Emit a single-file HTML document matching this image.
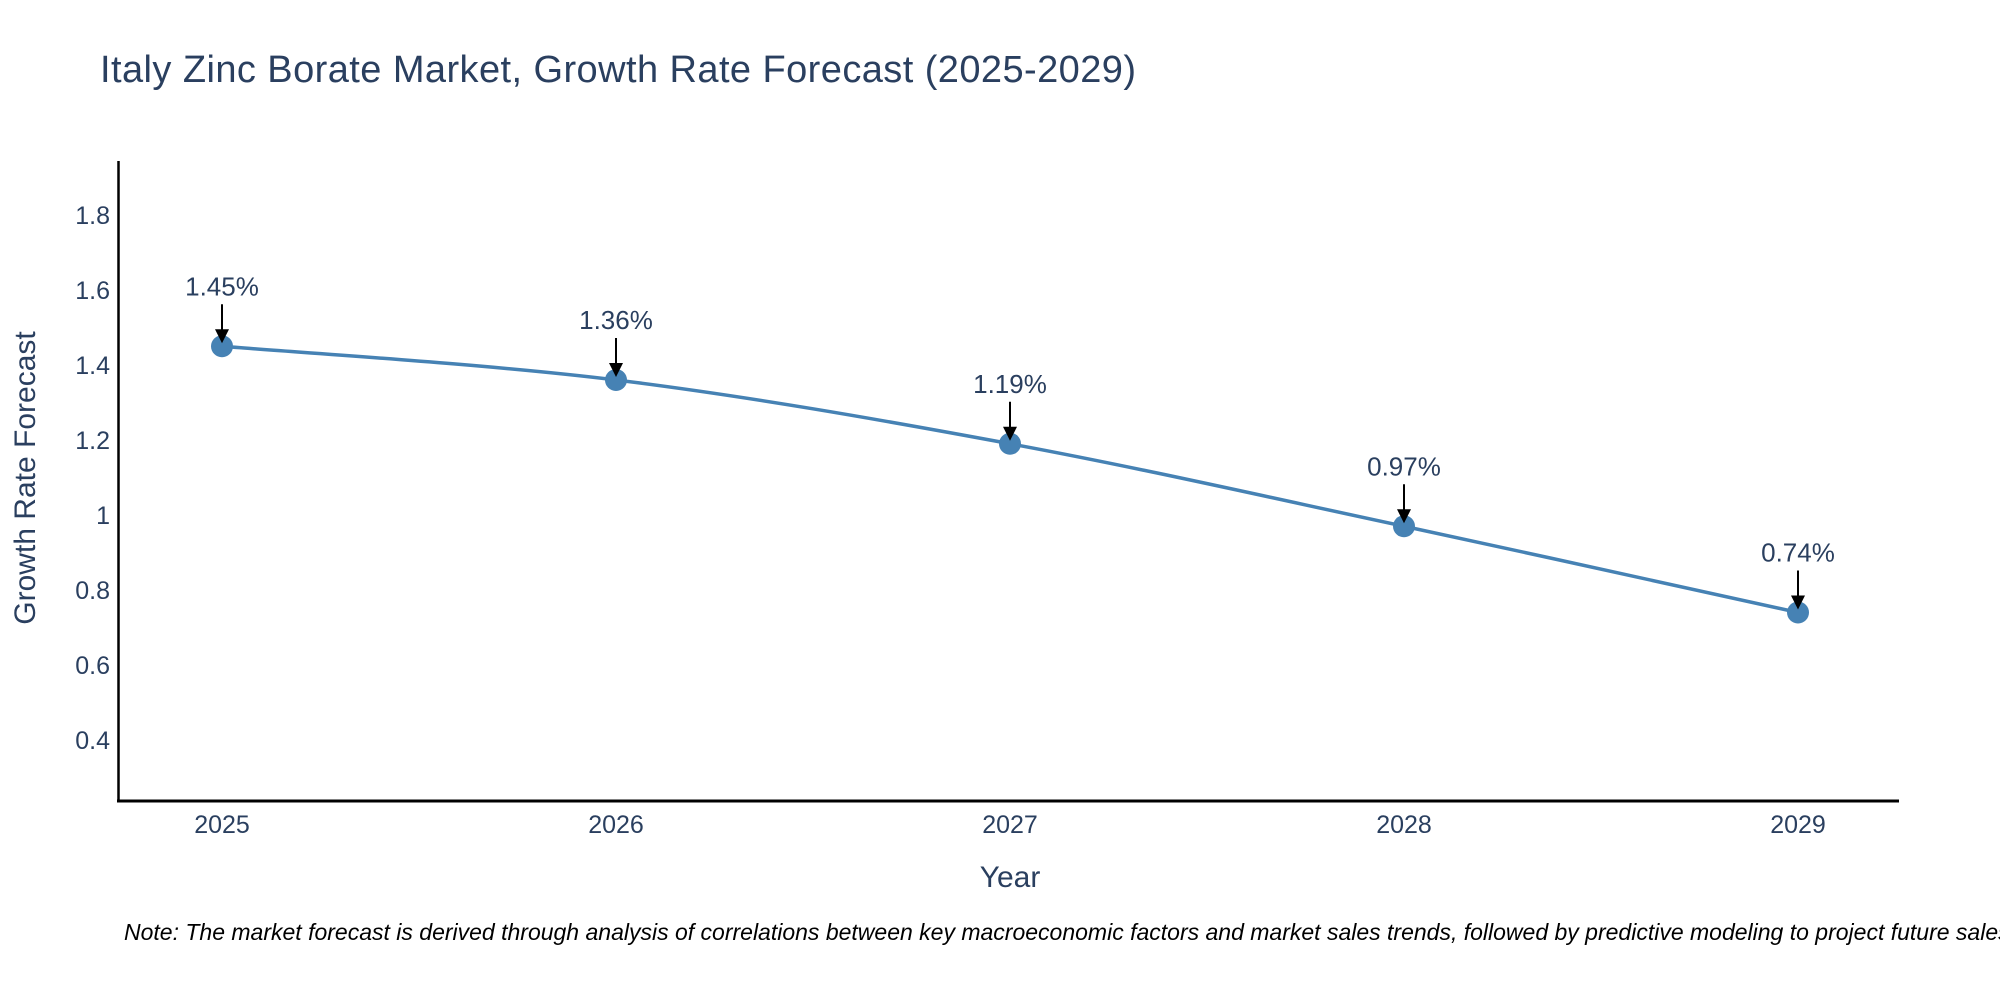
<!DOCTYPE html>
<html><head><meta charset="utf-8"><style>
html,body{margin:0;padding:0;background:#fff}
svg{display:block;font-family:"Liberation Sans",sans-serif}
</style></head><body>
<svg id="chart" width="2000" height="1000" viewBox="0 0 2000 1000">
<text x="100" y="82" font-size="38" fill="#2a3f5f" textLength="1036">Italy Zinc Borate Market, Growth Rate Forecast (2025-2029)</text>
<g id="yticks"></g>
<g id="xticks"></g>
<line x1="118.5" y1="161" x2="118.5" y2="802" stroke="#000" stroke-width="2.5"/>
<line x1="117" y1="801" x2="1899" y2="801" stroke="#000" stroke-width="3"/>
<path id="series" fill="none" stroke="#4682b4" stroke-width="3.5"/>
<g id="marks"></g>
<g id="annos"></g>
<text x="0" y="0" transform="translate(35,478) rotate(-90)" text-anchor="middle" font-size="30" fill="#2a3f5f">Growth Rate Forecast</text>
<text x="1010" y="887" text-anchor="middle" font-size="30" fill="#2a3f5f">Year</text>
<text x="124" y="940" font-size="23" font-style="italic" fill="#000">Note: The market forecast is derived through analysis of correlations between key macroeconomic factors and market sales trends, followed by predictive modeling to project future sales.</text>
</svg>
<script>
const years = [2025, 2026, 2027, 2028, 2029];
const values = [1.45, 1.36, 1.19, 0.97, 0.74];
const labels = ["1.45%", "1.36%", "1.19%", "0.97%", "0.74%"];
const yTicks = [0.4, 0.6, 0.8, 1, 1.2, 1.4, 1.6, 1.8];
const yTickLabels = ["0.4", "0.6", "0.8", "1", "1.2", "1.4", "1.6", "1.8"];

const NS = "http://www.w3.org/2000/svg";
function xs(v){ return 222 + (v - 2025) * 394; }
function ys(v){ return 365 - (v - 1.4) * 375; }
function mk(tag, attrs, parent){
  const e = document.createElementNS(NS, tag);
  for (const k in attrs) e.setAttribute(k, attrs[k]);
  parent.appendChild(e);
  return e;
}
const yg = document.getElementById('yticks');
yTicks.forEach((t, i) => {
  const e = mk('text', {x: 110, y: ys(t) + 9, 'text-anchor': 'end', 'font-size': 25, fill: '#2a3f5f'}, yg);
  
  
  e.textContent = yTickLabels[i];
});
const xg = document.getElementById('xticks');
years.forEach(y => {
  const e = mk('text', {x: xs(y), y: 833, 'text-anchor': 'middle', 'font-size': 25, fill: '#2a3f5f'}, xg);
  
  
  e.textContent = String(y);
});
const pts = years.map((y, i) => [xs(y), ys(values[i])]);
let d = `M${pts[0][0]},${pts[0][1]}`;
for (let i = 0; i < pts.length - 1; i++) {
  const p0 = pts[Math.max(0, i - 1)], p1 = pts[i], p2 = pts[i + 1], p3 = pts[Math.min(pts.length - 1, i + 2)];
  const t = 0.5 / 3;
  const c1 = [p1[0] + (p2[0] - p0[0]) * t, p1[1] + (p2[1] - p0[1]) * t];
  const c2 = [p2[0] - (p3[0] - p1[0]) * t, p2[1] - (p3[1] - p1[1]) * t];
  d += ` C${c1[0]},${c1[1]} ${c2[0]},${c2[1]} ${p2[0]},${p2[1]}`;
}
document.getElementById('series').setAttribute('d', d);
const mg = document.getElementById('marks');
const ag = document.getElementById('annos');
pts.forEach((p, i) => {
  const c = mk('circle', {cx: p[0], cy: p[1], r: 11, fill: '#4682b4'}, mg);
  
  
  const l = mk('line', {x1: p[0], y1: p[1] - 42, x2: p[0], y2: p[1] - 14, stroke: '#000', 'stroke-width': 2}, ag);
  
  
  const h = mk('path', {d: `M${p[0]-7},${p[1]-17} L${p[0]+7},${p[1]-17} L${p[0]},${p[1]-3} Z`, fill: '#000'}, ag);
  
  
  const t = mk('text', {x: p[0], y: p[1] - 51, 'text-anchor': 'middle', 'font-size': 26, fill: '#2a3f5f'}, ag);
  
  
  t.textContent = labels[i];
});
</script>
</body></html>
